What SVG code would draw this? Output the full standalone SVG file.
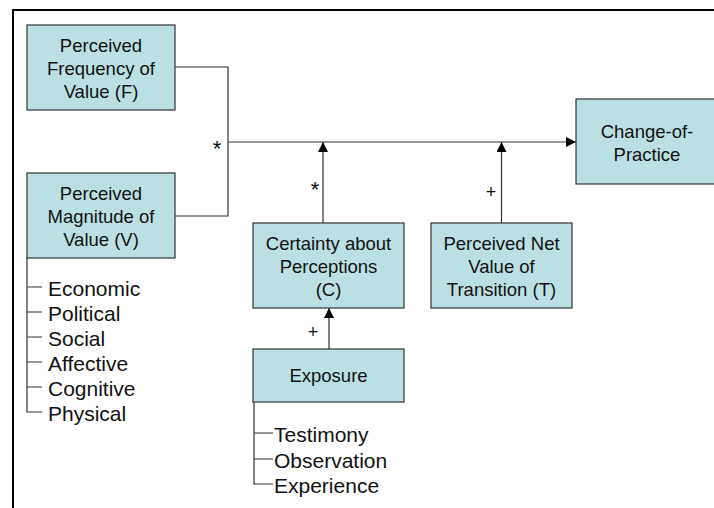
<svg xmlns="http://www.w3.org/2000/svg" width="714" height="508" viewBox="0 0 714 508">
<style>
.box{fill:#bbe0e3;stroke:#333;stroke-width:1.2}
.t{font-family:"Liberation Sans",Arial,sans-serif;font-size:18.5px;fill:#111;text-anchor:middle}
.l{font-family:"Liberation Sans",Arial,sans-serif;font-size:21px;fill:#111}
.s{font-family:"Liberation Sans",Arial,sans-serif;font-size:22px;fill:#111;text-anchor:middle}
.p{font-family:"Liberation Sans",Arial,sans-serif;font-size:18px;fill:#111;text-anchor:middle}
.c{fill:none;stroke:#333;stroke-width:1.2}
</style>
<defs>
<marker id="ah" markerWidth="10" markerHeight="10" refX="10" refY="5" orient="auto" markerUnits="userSpaceOnUse">
<path d="M0,0 L10,5 L0,10 Z" fill="#000"/>
</marker>
</defs>
<rect width="714" height="508" fill="#fff"/>
<path d="M13,508 V10 H714" fill="none" stroke="#000" stroke-width="2"/>
<g id="connectors">
<path class="c" d="M175,67 H228 V216 H175"/>
<path class="c" d="M228,142 H576" marker-end="url(#ah)"/>
<path class="c" d="M323,223 V142" marker-end="url(#ah)"/>
<path class="c" d="M501.5,223 V142" marker-end="url(#ah)"/>
<path class="c" d="M329,349 V308" marker-end="url(#ah)"/>
<path class="c" d="M27,258 V412 H42 M27,287 H42 M27,312 H42 M27,337 H42 M27,362 H42 M27,387 H42"/>
<path class="c" d="M254,402 V484 H273 M254,433 H273 M254,459 H273"/>
<text class="s" x="217" y="156">*</text>
<text class="s" x="315" y="197">*</text>
<text class="p" x="491" y="198">+</text>
<text class="p" x="313" y="338">+</text>
</g>
<g id="nodeF">
<rect class="box" x="27" y="25" width="148" height="85"/>
<text class="t" x="101" y="52">Perceived</text>
<text class="t" x="101" y="75">Frequency of</text>
<text class="t" x="101" y="98">Value (F)</text>
</g>
<g id="nodeV">
<rect class="box" x="27" y="173" width="148" height="85"/>
<text class="t" x="101" y="200">Perceived</text>
<text class="t" x="101" y="223">Magnitude of</text>
<text class="t" x="101" y="246">Value (V)</text>
</g>
<g id="nodeChange">
<rect class="box" x="576" y="99" width="144" height="85"/>
<text class="t" x="647" y="138">Change-of-</text>
<text class="t" x="647" y="161">Practice</text>
</g>
<g id="nodeC">
<rect class="box" x="253" y="223" width="151" height="85"/>
<text class="t" x="328.5" y="250">Certainty about</text>
<text class="t" x="328.5" y="273">Perceptions</text>
<text class="t" x="328.5" y="296">(C)</text>
</g>
<g id="nodeT">
<rect class="box" x="431" y="223" width="141" height="85"/>
<text class="t" x="501.5" y="250">Perceived Net</text>
<text class="t" x="501.5" y="273">Value of</text>
<text class="t" x="501.5" y="296">Transition (T)</text>
</g>
<g id="nodeExposure">
<rect class="box" x="253" y="349" width="151" height="53"/>
<text class="t" x="328.5" y="382">Exposure</text>
</g>
<g id="listV">
<text class="l" x="48" y="296">Economic</text>
<text class="l" x="48" y="321">Political</text>
<text class="l" x="48" y="346">Social</text>
<text class="l" x="48" y="371">Affective</text>
<text class="l" x="48" y="396">Cognitive</text>
<text class="l" x="48" y="421">Physical</text>
</g>
<g id="listExposure">
<text class="l" x="274" y="442">Testimony</text>
<text class="l" x="274" y="468">Observation</text>
<text class="l" x="274" y="493">Experience</text>
</g>
</svg>
